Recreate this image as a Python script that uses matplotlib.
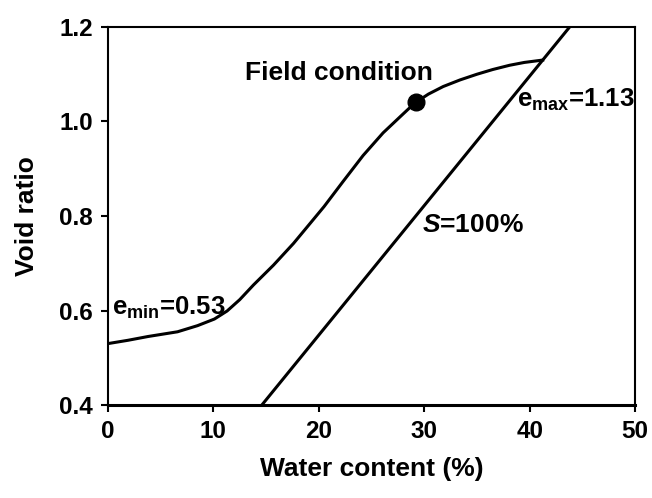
import matplotlib
matplotlib.use("Agg")
import matplotlib.pyplot as plt

plt.rcParams['font.family'] = ['Liberation Sans', 'DejaVu Sans']
plt.rcParams['font.weight'] = 'bold'
plt.rcParams['mathtext.fontset'] = 'custom'
plt.rcParams['mathtext.rm'] = 'Liberation Sans:bold'
plt.rcParams['mathtext.bf'] = 'Liberation Sans:bold'
plt.rcParams['mathtext.it'] = 'Liberation Sans:italic:bold'

# Void ratio vs water content
water_content = [0, 1.9, 3.8, 6.6, 8.5, 10.1, 11.3, 12.5, 13.8, 15.7, 17.6, 19.2,
                 20.5, 22.3, 24.2, 26.1, 28.0, 29.1, 30.4, 31.8, 33.4, 35.0,
                 36.5, 38.1, 39.5, 41.24]
void_ratio = [0.530, 0.537, 0.545, 0.555, 0.568, 0.582, 0.599, 0.623, 0.654,
              0.696, 0.742, 0.785, 0.820, 0.873, 0.928, 0.976, 1.016, 1.039,
              1.058, 1.074, 1.088, 1.100, 1.110, 1.119, 1.125, 1.130]

# Saturation line S=100%: e = Gs * w
Gs = 2.74
sat_w = [0, 50]

# Field condition point
field_w = 29.2
field_e = 1.042

e_min = 0.53
e_max = 1.13

fig = plt.figure(figsize=(6.52, 4.98), dpi=100)
ax = fig.add_axes([0.1656, 0.1867, 0.8084, 0.7591])

ax.plot(water_content, void_ratio, color='black', lw=2.2,
        solid_joinstyle='round')
ax.plot(sat_w, [Gs * w / 100 for w in sat_w], color='black', lw=2.2)
ax.plot([field_w], [field_e], 'o', color='black', markersize=12)

ax.set_xlim(0, 50)
ax.set_ylim(0.4, 1.2)
ax.set_xticks([0, 10, 20, 30, 40, 50])
ax.set_yticks([0.4, 0.6, 0.8, 1.0, 1.2])
ax.set_yticklabels(['0.4', '0.6', '0.8', '1.0', '1.2'])
ax.tick_params(axis='both', direction='out', length=5, width=1.5,
               labelsize=17.5, pad=6)
for lbl in ax.get_xticklabels() + ax.get_yticklabels():
    lbl.set_fontweight('bold')
for s in ax.spines.values():
    s.set_linewidth(1.5)
ax.spines['bottom'].set_linewidth(2.2)

ax.set_xlabel('Water content (%)', fontsize=19, fontweight='bold', labelpad=10)
ax.set_ylabel('Void ratio', fontsize=19, fontweight='bold', labelpad=14)

ax.text(13.0, 1.103, 'Field condition', fontsize=19, fontweight='bold',
        ha='left', va='center')
ax.text(38.8, 1.045, r'e$_{\mathrm{max}}$=%.2f' % e_max, fontsize=18.5,
        fontweight='bold', ha='left', va='center')
ax.text(0.4, 0.605, r'e$_{\mathrm{min}}$=%.2f' % e_min, fontsize=18.5,
        fontweight='bold', ha='left', va='center')
ax.text(29.8, 0.78, r'$S$=100%', fontsize=19, fontweight='bold',
        ha='left', va='center')

fig.savefig('out.png', dpi=100)
